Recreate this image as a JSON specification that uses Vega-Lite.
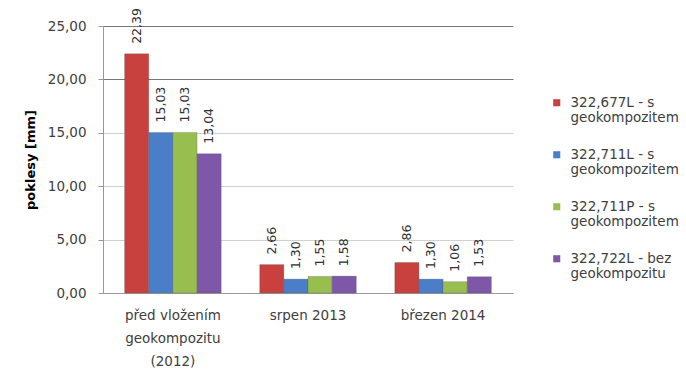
{
  "$schema": "https://vega.github.io/schema/vega-lite/v6.json",
  "autosize": {"type": "none"},
  "width": 410,
  "height": 267,
  "padding": {"left": 103, "top": 26, "right": 173, "bottom": 78},
  "background": "white",
  "config": {
    "locale": {"number": {"decimal": ",", "thousands": " ", "grouping": [3], "currency": ["", " Kč"]}},
    "view": {"stroke": null},
    "font": "DejaVu Sans"
  },
  "data": {
    "values": [
      {"group": "před vložením|geokompozitu|(2012)", "series": "322,677L - s geokompozitem", "value": 22.39},
      {"group": "před vložením|geokompozitu|(2012)", "series": "322,711L - s geokompozitem", "value": 15.03},
      {"group": "před vložením|geokompozitu|(2012)", "series": "322,711P - s geokompozitem", "value": 15.03},
      {"group": "před vložením|geokompozitu|(2012)", "series": "322,722L - bez geokompozitu", "value": 13.04},
      {"group": "srpen 2013", "series": "322,677L - s geokompozitem", "value": 2.66},
      {"group": "srpen 2013", "series": "322,711L - s geokompozitem", "value": 1.30},
      {"group": "srpen 2013", "series": "322,711P - s geokompozitem", "value": 1.55},
      {"group": "srpen 2013", "series": "322,722L - bez geokompozitu", "value": 1.58},
      {"group": "březen 2014", "series": "322,677L - s geokompozitem", "value": 2.86},
      {"group": "březen 2014", "series": "322,711L - s geokompozitem", "value": 1.30},
      {"group": "březen 2014", "series": "322,711P - s geokompozitem", "value": 1.06},
      {"group": "březen 2014", "series": "322,722L - bez geokompozitu", "value": 1.53}
    ]
  },
  "encoding": {
    "x": {
      "field": "group", "type": "nominal", "sort": null,
      "scale": {"paddingInner": 0.285, "paddingOuter": 0.16},
      "axis": {
        "title": null, "labelAngle": 0, "ticks": false,
        "labelExpr": "split(datum.label, '|')",
        "labelFontSize": 13.5, "labelColor": "#404040", "labelLineHeight": 23,
        "labelPadding": 15, "domainColor": "#999999"
      }
    },
    "xOffset": {"field": "series", "type": "nominal", "sort": null, "scale": {"paddingInner": 0, "paddingOuter": 0}},
    "y": {
      "field": "value", "type": "quantitative",
      "scale": {"domain": [0, 25], "nice": false},
      "axis": {
        "title": "poklesy [mm]", "titleFontSize": 13, "titleFontWeight": "bold", "titleColor": "#000000",
        "titlePadding": 10,
        "values": [0, 5, 10, 15, 20, 25], "format": ".2f",
        "labelFontSize": 13.5, "labelColor": "#404040", "labelPadding": 12,
        "tickColor": "#999999", "tickSize": 5, "domainColor": "#999999",
        "gridColor": {"condition": {"test": "datum.value >= 20", "value": "#777777"}, "value": "#d0d0d0"}
      }
    }
  },
  "layer": [
    {
      "mark": {"type": "bar", "stroke": "#555555", "strokeWidth": 0.5, "strokeOpacity": 0.5},
      "encoding": {
        "color": {
          "field": "series", "type": "nominal", "sort": null,
          "scale": {"range": ["#C8413E", "#4A7EC8", "#98BE50", "#7E57A8"]},
          "legend": {
            "title": null, "orient": "none", "legendX": 447, "legendY": 70,
            "symbolType": "square", "symbolSize": 50, "symbolStrokeWidth": 0,
            "labelFontSize": 13.5, "labelColor": "#404040", "labelLineHeight": 18,
            "labelLimit": 200,
            "labelExpr": "[substring(datum.label, 0, lastindexof(datum.label, ' ')), substring(datum.label, lastindexof(datum.label, ' ') + 1)]",
            "rowPadding": 22, "labelOffset": 7
          }
        }
      }
    },
    {
      "mark": {"type": "text", "angle": 270, "align": "left", "baseline": "middle", "dx": 10, "fontSize": 12.5, "color": "#303030"},
      "encoding": {
        "text": {"field": "value", "type": "quantitative", "format": ".2f"}
      }
    }
  ]
}
